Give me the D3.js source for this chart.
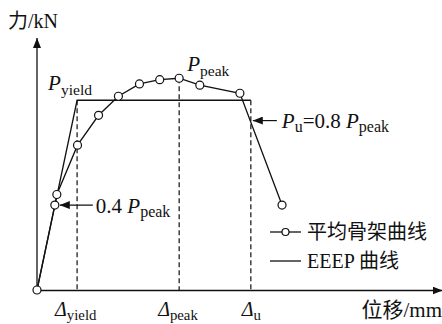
<!DOCTYPE html>
<html>
<head>
<meta charset="utf-8">
<script src="https://cdn.jsdelivr.net/npm/d3@7/dist/d3.min.js"></script>
<style>
  html, body { margin: 0; padding: 0; background: #fff; }
  svg { display: block; }
  text { font-family: "Liberation Serif", "Times New Roman", serif; fill: #111; }
  .cjk { font-family: "Noto Sans CJK SC", sans-serif; }
</style>
</head>
<body>
<svg id="chart" width="442" height="324"></svg>
<script>
// Average skeleton curve (displacement mm, force kN)
const skeletonDisp  = [0, 4.4, 4.9, 10.0, 15.2, 20.1, 25.3, 30.3, 35.1, 40.2, 50.1, 60.5];
const skeletonForce = [0, 40.1, 45.1, 68.4, 82.5, 91.5, 97.3, 99.3, 100.0, 96.7, 92.9, 40.1];

// Characteristic points of the EEEP (equivalent energy elastic-plastic) curve
const pointNames  = ["yield", "peak", "u"];
const pointDisp   = [9.9, 35.1, 52.8];
const pointForce  = [89.6, 100.0, 80.0];

const axisMax = { x: 100, y: 119 };

const svg = d3.select("#chart");
const x = d3.scaleLinear().domain([0, axisMax.x]).range([37, 442]);
const y = d3.scaleLinear().domain([0, axisMax.y]).range([290, 38]);

const ink = "#111";

// Arrow heads
const defs = svg.append("defs");
defs.append("marker")
  .attr("id", "arrow").attr("viewBox", "0 0 10 8")
  .attr("refX", 10).attr("refY", 4)
  .attr("markerWidth", 10).attr("markerHeight", 8)
  .attr("markerUnits", "userSpaceOnUse")
  .attr("orient", "auto")
  .append("path").attr("d", "M0,0 L10,4 L0,8 Z").attr("fill", ink);

// Axes (plain lines with arrows, no ticks)
svg.append("g").attr("transform", `translate(0,${y(0)})`)
  .call(d3.axisBottom(x).tickValues([]).tickSizeOuter(0))
  .select(".domain").attr("stroke", ink).attr("stroke-width", 1.3)
  .attr("marker-end", "url(#arrow)");
svg.append("g").attr("transform", `translate(${x(0)},0)`)
  .call(d3.axisLeft(y).tickValues([]).tickSizeOuter(0))
  .select(".domain").attr("stroke", ink).attr("stroke-width", 1.3)
  .attr("d", `M0,${y(0)}V${y(axisMax.y)}`)
  .attr("marker-end", "url(#arrow)");

const P = {};
pointNames.forEach((n, i) => P[n] = { d: pointDisp[i], f: pointForce[i] });

// Dashed guide lines from the characteristic points to the displacement axis
const guides = [
  { d: P.yield.d, f: P.yield.f },
  { d: P.peak.d,  f: P.peak.f },
  { d: P.u.d,     f: P.yield.f }
];
svg.selectAll("line.guide").data(guides).enter().append("line")
  .attr("class", "guide")
  .attr("x1", g => x(g.d)).attr("x2", g => x(g.d))
  .attr("y1", g => y(g.f)).attr("y2", y(0))
  .attr("stroke", ink).attr("stroke-width", 1.2)
  .attr("stroke-dasharray", "5,3");

// EEEP curve
const eeep = [[0, 0], [P.yield.d, P.yield.f], [P.u.d, P.yield.f]];
const line = d3.line().x(d => x(d[0])).y(d => y(d[1]));
svg.append("path").attr("d", line(eeep))
  .attr("fill", "none").attr("stroke", ink).attr("stroke-width", 1.3);

// Skeleton curve
const skel = skeletonDisp.map((d, i) => [d, skeletonForce[i]]);
svg.append("path").attr("d", line(skel))
  .attr("fill", "none").attr("stroke", ink).attr("stroke-width", 1.3);
svg.selectAll("circle.pt").data(skel).enter().append("circle")
  .attr("class", "pt")
  .attr("cx", d => x(d[0])).attr("cy", d => y(d[1])).attr("r", 4)
  .attr("fill", "#fff").attr("stroke", ink).attr("stroke-width", 1.2);

// Helper: label with an italic main symbol and an upright subscript
function symbol(g, xPos, yPos, main, sub, size, italicMain) {
  const t = g.append("text").attr("x", xPos).attr("y", yPos).attr("font-size", size);
  t.append("tspan").text(main).attr("font-style", italicMain ? "italic" : "normal");
  t.append("tspan").text(sub).attr("font-size", size * 0.74).attr("dy", size * 0.22);
  return t;
}

// Annotation: 0.4 Ppeak
const p04 = skel[1];
svg.append("line")
  .attr("x1", x(p04[0]) + 38).attr("x2", x(p04[0]) + 5)
  .attr("y1", y(p04[1])).attr("y2", y(p04[1]))
  .attr("stroke", ink).attr("stroke-width", 1.2).attr("marker-end", "url(#arrow)");
{
  const t = svg.append("text").attr("x", x(p04[0]) + 41).attr("y", y(p04[1]) + 8).attr("font-size", 21);
  t.append("tspan").text("0.4 ");
  t.append("tspan").text("P").attr("font-style", "italic");
  t.append("tspan").text("peak").attr("font-size", 16).attr("dy", 4);
}

// Annotation: Pu = 0.8 Ppeak
svg.append("line")
  .attr("x1", x(P.u.d) + 26).attr("x2", x(P.u.d) + 2)
  .attr("y1", y(P.u.f)).attr("y2", y(P.u.f))
  .attr("stroke", ink).attr("stroke-width", 1.2).attr("marker-end", "url(#arrow)");
{
  const t = svg.append("text").attr("x", x(P.u.d) + 31).attr("y", y(P.u.f) + 7).attr("font-size", 21);
  t.append("tspan").text("P").attr("font-style", "italic");
  t.append("tspan").text("u").attr("font-size", 16).attr("dy", 4);
  t.append("tspan").text("=0.8 ").attr("dy", -4);
  t.append("tspan").text("P").attr("font-style", "italic");
  t.append("tspan").text("peak").attr("font-size", 16).attr("dy", 4);
}

// Force labels at the yield and peak points
symbol(svg, x(P.yield.d) - 29, y(P.yield.f) - 10, "P", "yield", 21, true);
symbol(svg, x(P.peak.d) + 8, y(P.peak.f) - 7, "P", "peak", 21, true);

// Displacement labels below the axis
const dLabelY = 316;
symbol(svg, x(P.yield.d) - 22, dLabelY, "Δ", "yield", 20, true);
symbol(svg, x(P.peak.d) - 21, dLabelY, "Δ", "peak", 20, true);
symbol(svg, x(P.u.d) - 9, dLabelY, "Δ", "u", 20, true);

// Axis titles
{
  const t = svg.append("text").attr("x", 8).attr("y", 28).attr("font-size", 20);
  t.append("tspan").text("力").attr("class", "cjk");
  t.append("tspan").text("/kN");
}
{
  const t = svg.append("text").attr("x", 442).attr("y", 317).attr("font-size", 21)
    .attr("text-anchor", "end");
  t.append("tspan").text("位移").attr("class", "cjk");
  t.append("tspan").text("/mm");
}

// Legend
const legend = svg.append("g").attr("transform", "translate(270,0)");
const rowY = [232, 261];
legend.append("line").attr("x1", 0).attr("x2", 31).attr("y1", rowY[0]).attr("y2", rowY[0])
  .attr("stroke", ink).attr("stroke-width", 1.3);
legend.append("circle").attr("cx", 15.5).attr("cy", rowY[0]).attr("r", 3.5)
  .attr("fill", "#fff").attr("stroke", ink).attr("stroke-width", 1.2);
legend.append("text").attr("class", "cjk").attr("x", 37).attr("y", rowY[0] + 7)
  .attr("font-size", 20).text("平均骨架曲线");
legend.append("line").attr("x1", 0).attr("x2", 31).attr("y1", rowY[1]).attr("y2", rowY[1])
  .attr("stroke", ink).attr("stroke-width", 1.3);
{
  const t = legend.append("text").attr("x", 37).attr("y", rowY[1] + 7).attr("font-size", 20);
  t.append("tspan").text("EEEP ");
  t.append("tspan").text("曲线").attr("class", "cjk");
}
</script>
</body>
</html>
